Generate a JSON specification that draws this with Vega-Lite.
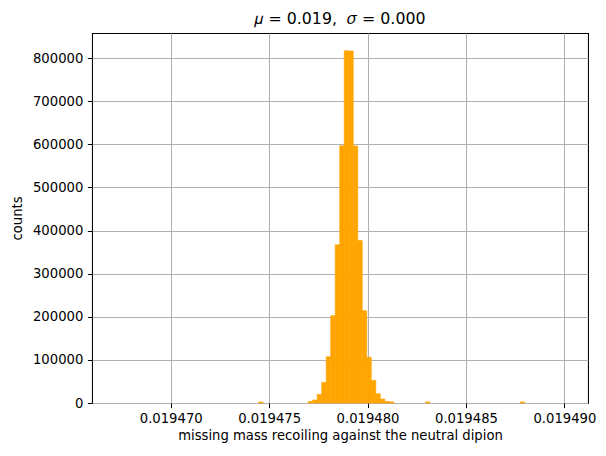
{
  "$schema": "https://vega.github.io/schema/vega-lite/v6.json",
  "autosize": "none",
  "width": 496,
  "height": 370,
  "padding": {"left": 92, "top": 33, "right": 18, "bottom": 53},
  "background": "white",
  "config": {
    "font": "DejaVu Sans",
    "view": {"stroke": "black", "strokeWidth": 1.05},
    "axis": {
      "zindex": 1,
      "domain": false,
      "grid": true,
      "gridColor": "#b0b0b0",
      "gridWidth": 1.05,
      "gridOpacity": 1,
      "tickColor": "black",
      "tickSize": 4.6,
      "tickWidth": 1.05,
      "labelColor": "black",
      "labelFont": "DejaVu Sans",
      "labelFontSize": 13.2,
      "labelPadding": 4.6,
      "titleFont": "DejaVu Sans",
      "titleFontSize": 13.2,
      "titleFontWeight": "normal",
      "titleColor": "black"
    }
  },
  "title": {
    "text": "𝜇 = 0.019,\u00a0\u00a0𝜎 = 0.000",
    "font": "DejaVu Sans",
    "fontSize": 15.8,
    "fontWeight": "normal",
    "color": "black",
    "offset": 5
  },
  "data": {
    "values": [
      {"bin_start": 0.0194744611, "bin_end": 0.0194746903, "count": 2500},
      {"bin_start": 0.0194769817, "bin_end": 0.0194772109, "count": 3700},
      {"bin_start": 0.0194772109, "bin_end": 0.0194774400, "count": 7000},
      {"bin_start": 0.0194774400, "bin_end": 0.0194776692, "count": 20000},
      {"bin_start": 0.0194776692, "bin_end": 0.0194778983, "count": 47800},
      {"bin_start": 0.0194778983, "bin_end": 0.0194781275, "count": 107400},
      {"bin_start": 0.0194781275, "bin_end": 0.0194783566, "count": 202500},
      {"bin_start": 0.0194783566, "bin_end": 0.0194785858, "count": 367000},
      {"bin_start": 0.0194785858, "bin_end": 0.0194788149, "count": 596700},
      {"bin_start": 0.0194788149, "bin_end": 0.0194790441, "count": 817000},
      {"bin_start": 0.0194790441, "bin_end": 0.0194792732, "count": 816000},
      {"bin_start": 0.0194792732, "bin_end": 0.0194795024, "count": 596000},
      {"bin_start": 0.0194795024, "bin_end": 0.0194797315, "count": 377000},
      {"bin_start": 0.0194797315, "bin_end": 0.0194799607, "count": 214000},
      {"bin_start": 0.0194799607, "bin_end": 0.0194801898, "count": 106000},
      {"bin_start": 0.0194801898, "bin_end": 0.0194804190, "count": 52400},
      {"bin_start": 0.0194804190, "bin_end": 0.0194806481, "count": 21600},
      {"bin_start": 0.0194806481, "bin_end": 0.0194808773, "count": 9300},
      {"bin_start": 0.0194808773, "bin_end": 0.0194811064, "count": 3500},
      {"bin_start": 0.0194811064, "bin_end": 0.0194813356, "count": 2500},
      {"bin_start": 0.0194829396, "bin_end": 0.0194831688, "count": 2500},
      {"bin_start": 0.0194877518, "bin_end": 0.0194879809, "count": 2500}
    ]
  },
  "mark": {"type": "bar", "color": "#FFA500", "stroke": "#FFA500", "strokeWidth": 0.6},
  "encoding": {
    "x": {
      "field": "bin_start",
      "type": "quantitative",
      "scale": {"domain": [0.019466, 0.0194912], "nice": false, "zero": false},
      "axis": {
        "title": "missing mass recoiling against the neutral dipion",
        "values": [0.01947, 0.019475, 0.01948, 0.019485, 0.01949],
        "format": ".6f",
        "titlePadding": 5
      }
    },
    "x2": {"field": "bin_end"},
    "y": {
      "field": "count",
      "type": "quantitative",
      "scale": {"domain": [0, 858000], "nice": false},
      "axis": {
        "title": "counts",
        "values": [0, 100000, 200000, 300000, 400000, 500000, 600000, 700000, 800000],
        "format": "d",
        "titlePadding": 8
      }
    },
    "y2": {"datum": 0}
  }
}
